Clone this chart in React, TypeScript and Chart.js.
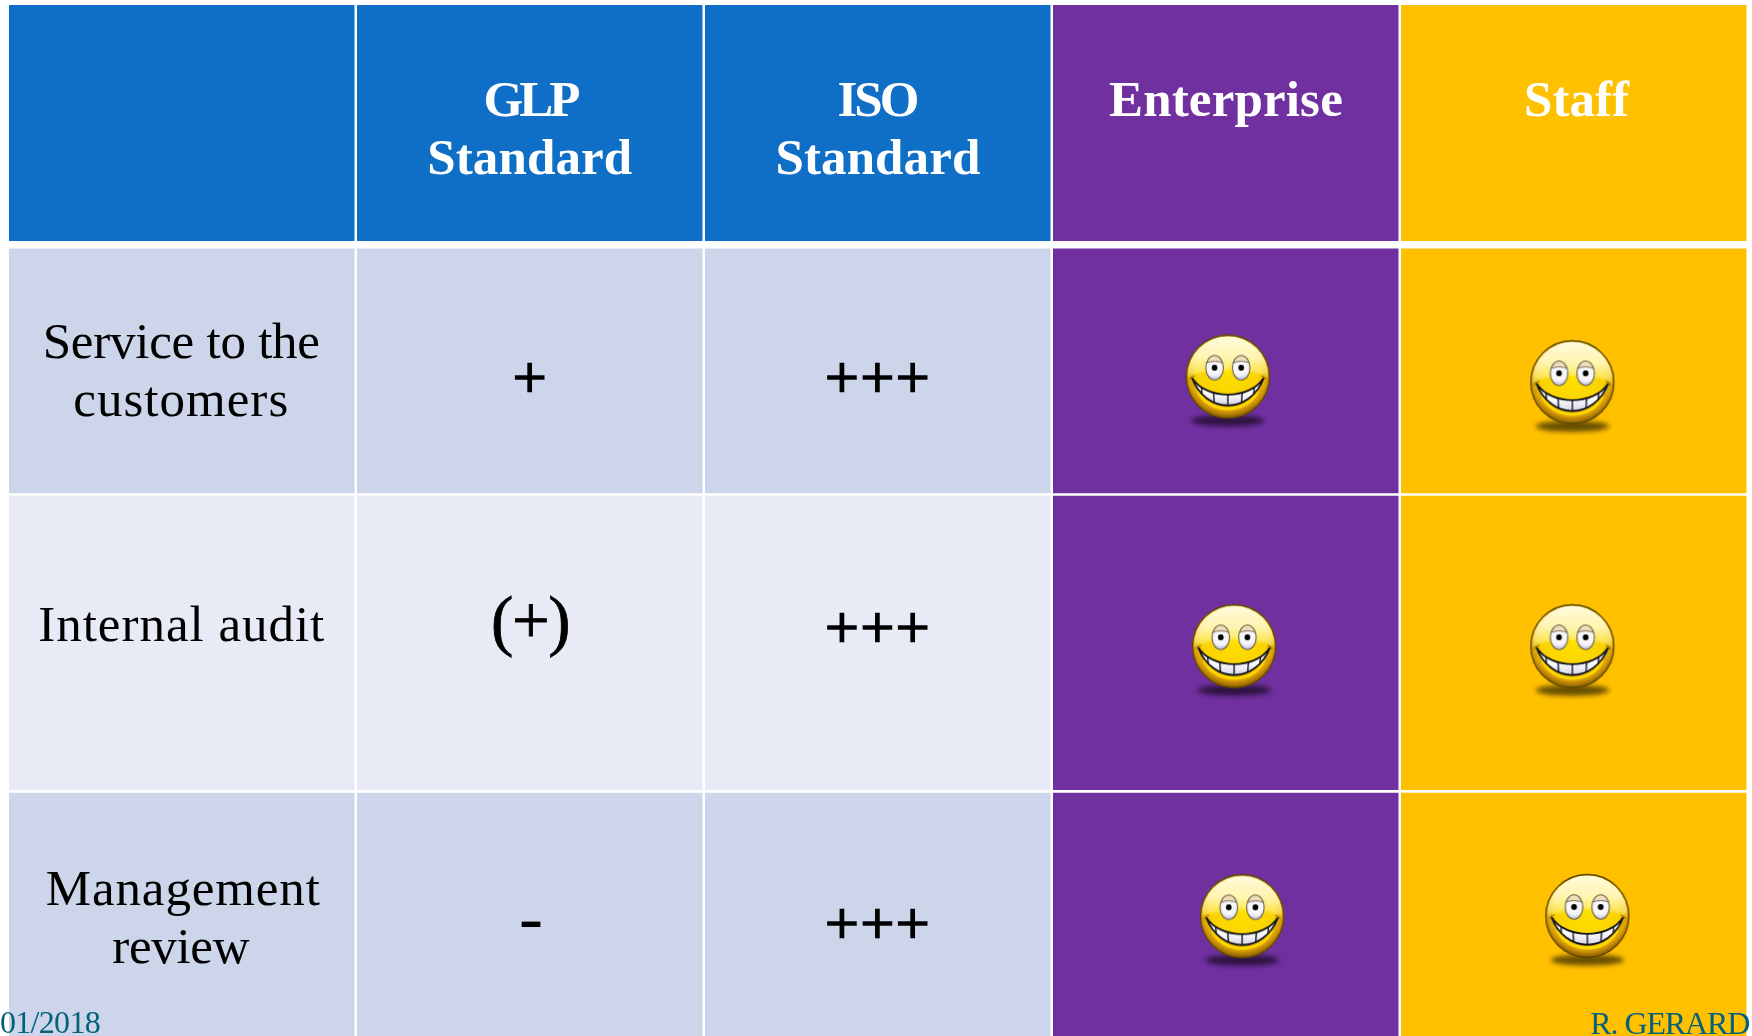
import React, { useEffect, useRef } from "react";
import { Chart, registerables } from "chart.js";

Chart.register(...registerables);

// ---- table content ----
const columnLabels = ["Criteria", "GLP Standard", "ISO Standard", "Enterprise", "Staff"];
const headerLines = [["GLP", "Standard"], ["ISO", "Standard"], ["Enterprise"], ["Staff"]];
const rowTitles = [["Service to the", "customers"], ["Internal audit"], ["Management", "review"]];
const glpRatings = ["+", "(+)", "-"];
const isoRatings = ["+++", "+++", "+++"];
const footerLeft = "01/2018";
const footerRight = "R. GERARD";

// cell extents read on the y axis (axis units equal image rows)
const headerBand = [5, 241];
const row1Band = [248.5, 493.3];
const row2Band = [495.7, 790];
const row3Band = [792.7, 1036];

// smiley positions: column position and y axis value
const enterpriseFaceCol = [3.006, 3.024, 3.047];
const enterpriseFaceY = [376.7, 646.3, 916.3];
const staffFaceCol = [3.996, 3.996, 4.039];
const staffFaceY = [382.3, 646.3, 916];

// ---- styles ----
const BLUE = "#0F6FC6";
const PURPLE = "#7030A0";
const GOLD = "#FFC000";
const BAND_DARK = "#CDD5EA";
const BAND_LIGHT = "#E8EBF5";
const TEAL = "#04617B";
const SERIF = '"Liberation Serif", serif';

function makeSmiley(): HTMLCanvasElement {
  const c = document.createElement("canvas");
  c.width = 100;
  c.height = 110;
  const g = c.getContext("2d")!;
  g.translate(50, 55);
  const R = 42;
  // shadow
  g.save();
  g.filter = "blur(2.5px)";
  g.fillStyle = "rgba(0,0,0,0.6)";
  g.beginPath();
  g.ellipse(0, 44, 37, 5.5, 0, 0, Math.PI * 2);
  g.fill();
  g.restore();
  // face
  const base = g.createRadialGradient(0, -8, 4, 0, -6, R + 7);
  base.addColorStop(0, "#FFE000");
  base.addColorStop(0.62, "#FAD200");
  base.addColorStop(0.82, "#D89C08");
  base.addColorStop(1, "#6E4600");
  g.fillStyle = base;
  g.beginPath();
  g.arc(0, 0, R, 0, Math.PI * 2);
  g.fill();
  // gloss
  g.save();
  g.beginPath();
  g.arc(0, 0, R - 1.5, 0, Math.PI * 2);
  g.clip();
  g.filter = "blur(1.5px)";
  const gloss = g.createLinearGradient(0, -R, 0, 0);
  gloss.addColorStop(0, "rgba(255,251,224,1)");
  gloss.addColorStop(0.55, "rgba(255,246,185,0.95)");
  gloss.addColorStop(1, "rgba(255,236,110,0.55)");
  g.fillStyle = gloss;
  g.beginPath();
  g.moveTo(-R, 0);
  g.quadraticCurveTo(0, -14, R, 0);
  g.lineTo(R, -R - 4);
  g.lineTo(-R, -R - 4);
  g.closePath();
  g.fill();
  g.filter = "none";
  // lower lip glow
  g.strokeStyle = "#FFD800";
  g.lineWidth = 3;
  g.beginPath();
  g.moveTo(-30, 14);
  g.bezierCurveTo(-20, 38, 20, 38, 30, 14);
  g.stroke();
  g.restore();
  // rim
  g.strokeStyle = "#5A4400";
  g.lineWidth = 1.3;
  g.beginPath();
  g.arc(0, 0, R - 0.5, 0, Math.PI * 2);
  g.stroke();
  // eyes
  for (const dx of [-13.3, 13.3]) {
    const eye = g.createRadialGradient(dx, -9, 2, dx, -9, 12);
    eye.addColorStop(0, "#FFFFFF");
    eye.addColorStop(0.6, "#F1F1F8");
    eye.addColorStop(1, "#B4B4D8");
    g.fillStyle = eye;
    g.beginPath();
    g.ellipse(dx, -9, 8.8, 12.2, 0, 0, Math.PI * 2);
    g.fill();
    // lid
    g.save();
    g.clip();
    g.fillStyle = "#F0DFB6";
    g.fillRect(dx - 10, -22, 20, 6.5);
    g.strokeStyle = "#7A6C55";
    g.lineWidth = 1;
    g.beginPath();
    g.moveTo(dx - 9, -13.5);
    g.quadraticCurveTo(dx, -17.5, dx + 9, -13.5);
    g.stroke();
    g.restore();
    g.strokeStyle = "#6A6048";
    g.lineWidth = 1.1;
    g.beginPath();
    g.ellipse(dx, -9, 8.8, 12.2, 0, 0, Math.PI * 2);
    g.stroke();
    g.fillStyle = "#000";
    g.beginPath();
    g.arc(dx, -9, 2.9, 0, Math.PI * 2);
    g.fill();
  }
  // mouth
  const mouth = new Path2D();
  mouth.moveTo(-36, 1);
  mouth.bezierCurveTo(-22, 23.5, 22, 23.5, 36, 1);
  mouth.bezierCurveTo(22, 38, -22, 38, -36, 1);
  mouth.closePath();
  const teeth = g.createLinearGradient(0, 16, 0, 30);
  teeth.addColorStop(0, "#FFFFFF");
  teeth.addColorStop(1, "#D3D3E6");
  g.fillStyle = teeth;
  g.fill(mouth);
  g.save();
  g.clip(mouth);
  g.strokeStyle = "#23232F";
  g.lineWidth = 1.5;
  for (const [x0, x1] of [[-27, -24], [-15, -13], [0, 0], [15, 13], [27, 24]]) {
    g.beginPath();
    g.moveTo(x0, 5);
    g.lineTo(x1, 36);
    g.stroke();
  }
  g.restore();
  g.strokeStyle = "#15151C";
  g.lineWidth = 1.8;
  g.stroke(mouth);
  // cheek creases
  g.strokeStyle = "rgba(150,100,0,0.8)";
  g.lineWidth = 1;
  g.beginPath();
  g.moveTo(-38, 3);
  g.quadraticCurveTo(-37, -1, -33, -1);
  g.moveTo(38, 3);
  g.quadraticCurveTo(37, -1, 33, -1);
  g.stroke();
  return c;
}

type TextItem = {
  text: string;
  col: number;
  dx: number;
  y: number;
  font: string;
  color: string;
  width?: number;
  stroke?: number;
  align?: CanvasTextAlign;
};

const HEAD_FONT = `bold 51px ${SERIF}`;
const BODY_FONT = `51px ${SERIF}`;
const PLUS_FONT = `60px ${SERIF}`;

const textItems: TextItem[] = [
  { text: headerLines[0][0], col: 1, dx: 0.2, y: 116, font: HEAD_FONT, color: "#fff", width: 93 },
  { text: headerLines[0][1], col: 1, dx: 0, y: 174, font: HEAD_FONT, color: "#fff", width: 205 },
  { text: headerLines[1][0], col: 2, dx: -0.8, y: 116, font: HEAD_FONT, color: "#fff", width: 79 },
  { text: headerLines[1][1], col: 2, dx: 0.2, y: 174, font: HEAD_FONT, color: "#fff", width: 205 },
  { text: headerLines[2][0], col: 3, dx: 0.2, y: 116, font: HEAD_FONT, color: "#fff", width: 234 },
  { text: headerLines[3][0], col: 4, dx: 2.8, y: 116, font: HEAD_FONT, color: "#fff", width: 105 },
  { text: rowTitles[0][0], col: 0, dx: -0.5, y: 358, font: BODY_FONT, color: "#000", width: 277 },
  { text: rowTitles[0][1], col: 0, dx: -0.5, y: 416, font: BODY_FONT, color: "#000", width: 216 },
  { text: rowTitles[1][0], col: 0, dx: 0, y: 641, font: BODY_FONT, color: "#000", width: 287 },
  { text: rowTitles[2][0], col: 0, dx: 1.5, y: 905, font: BODY_FONT, color: "#000", width: 275 },
  { text: rowTitles[2][1], col: 0, dx: -1, y: 963.3, font: BODY_FONT, color: "#000", width: 137 },
  { text: glpRatings[0], col: 1, dx: 0, y: 396.5, font: PLUS_FONT, color: "#000", stroke: 1.7 },
  { text: glpRatings[1], col: 1, dx: 0.3, y: 643, font: `67px ${SERIF}`, color: "#000", width: 78, stroke: 0.8 },
  { text: glpRatings[2], col: 1, dx: 1.3, y: 941, font: `72px ${SERIF}`, color: "#000" },
  { text: isoRatings[0], col: 2, dx: 0.3, y: 396.5, font: PLUS_FONT, color: "#000", stroke: 1.7, width: 106 },
  { text: isoRatings[1], col: 2, dx: 0.3, y: 646.5, font: PLUS_FONT, color: "#000", stroke: 1.7, width: 106 },
  { text: isoRatings[2], col: 2, dx: 0.3, y: 943, font: PLUS_FONT, color: "#000", stroke: 1.7, width: 106 },
  { text: footerLeft, col: 0, dx: -181.75, y: 1033, font: `32px ${SERIF}`, color: TEAL, width: 100, align: "left" },
  { text: footerRight, col: 4, dx: 175.6, y: 1034, font: `32px ${SERIF}`, color: TEAL, width: 159, align: "right" },
];

const tableText = {
  id: "tableText",
  afterDatasetsDraw(chart: any) {
    const { ctx, scales } = chart;
    ctx.save();
    ctx.textBaseline = "alphabetic";
    for (const t of textItems) {
      const x = scales.xCol.getPixelForValue(t.col) + t.dx;
      const y = scales.y.getPixelForValue(t.y);
      ctx.font = t.font;
      ctx.letterSpacing = "0px";
      ctx.textAlign = t.align ?? "center";
      if (t.width) {
        const w = ctx.measureText(t.text).width;
        ctx.letterSpacing = `${(t.width - w) / t.text.length}px`;
      }
      ctx.fillStyle = t.color;
      ctx.fillText(t.text, x, y);
      if (t.stroke) {
        ctx.strokeStyle = t.color;
        ctx.lineWidth = t.stroke;
        ctx.strokeText(t.text, x, y);
      }
    }
    ctx.restore();
  },
};

function bandDataset(label: string, band: number[], cells: string[]) {
  return {
    type: "bar" as const,
    label,
    data: columnLabels.map(() => band),
    backgroundColor: cells,
    grouped: false,
    order: 2,
    barPercentage: 1,
    categoryPercentage: 345.5 / 348,
    borderWidth: 0,
    xAxisID: "x",
    yAxisID: "y",
  };
}

function faceDataset(label: string, cols: number[], ys: number[], image: HTMLCanvasElement) {
  return {
    type: "scatter" as const,
    label,
    data: cols.map((x, i) => ({ x, y: ys[i] })),
    pointStyle: image,
    pointRadius: 45,
    showLine: false,
    order: 1,
    xAxisID: "xCol",
    yAxisID: "y",
  };
}

export default function App() {
  const ref = useRef<HTMLCanvasElement>(null);
  useEffect(() => {
    const smiley = makeSmiley();
    const chart = new Chart(ref.current!, {
      type: "bar",
      data: {
        labels: columnLabels,
        datasets: [
          faceDataset("Enterprise faces", enterpriseFaceCol, enterpriseFaceY, smiley),
          faceDataset("Staff faces", staffFaceCol, staffFaceY, smiley),
          bandDataset("Header", headerBand, [BLUE, BLUE, BLUE, PURPLE, GOLD]),
          bandDataset("Service to the customers", row1Band, [BAND_DARK, BAND_DARK, BAND_DARK, PURPLE, GOLD]),
          bandDataset("Internal audit", row2Band, [BAND_LIGHT, BAND_LIGHT, BAND_LIGHT, PURPLE, GOLD]),
          bandDataset("Management review", row3Band, [BAND_DARK, BAND_DARK, BAND_DARK, PURPLE, GOLD]),
        ] as any,
      },
      options: {
        responsive: false,
        animation: false,
        devicePixelRatio: 1,
        layout: { autoPadding: false, padding: { left: 7.75, right: 4.25, top: 0, bottom: 0 } },
        plugins: { legend: { display: false }, tooltip: { enabled: false } },
        scales: {
          x: { axis: "x", display: false, type: "category", offset: true },
          xCol: { axis: "x", position: "bottom", display: false, type: "linear", min: -0.5, max: 4.5, offset: false },
          y: { axis: "y", display: false, type: "linear", min: 0, max: 1036, reverse: true },
        },
      },
      plugins: [tableText],
    } as any);
    return () => chart.destroy();
  }, []);
  return (
    <canvas
      ref={ref}
      width={1752}
      height={1036}
      style={{ position: "fixed", left: 0, top: 0, width: 1752, height: 1036, display: "block", background: "#fff" }}
    />
  );
}
